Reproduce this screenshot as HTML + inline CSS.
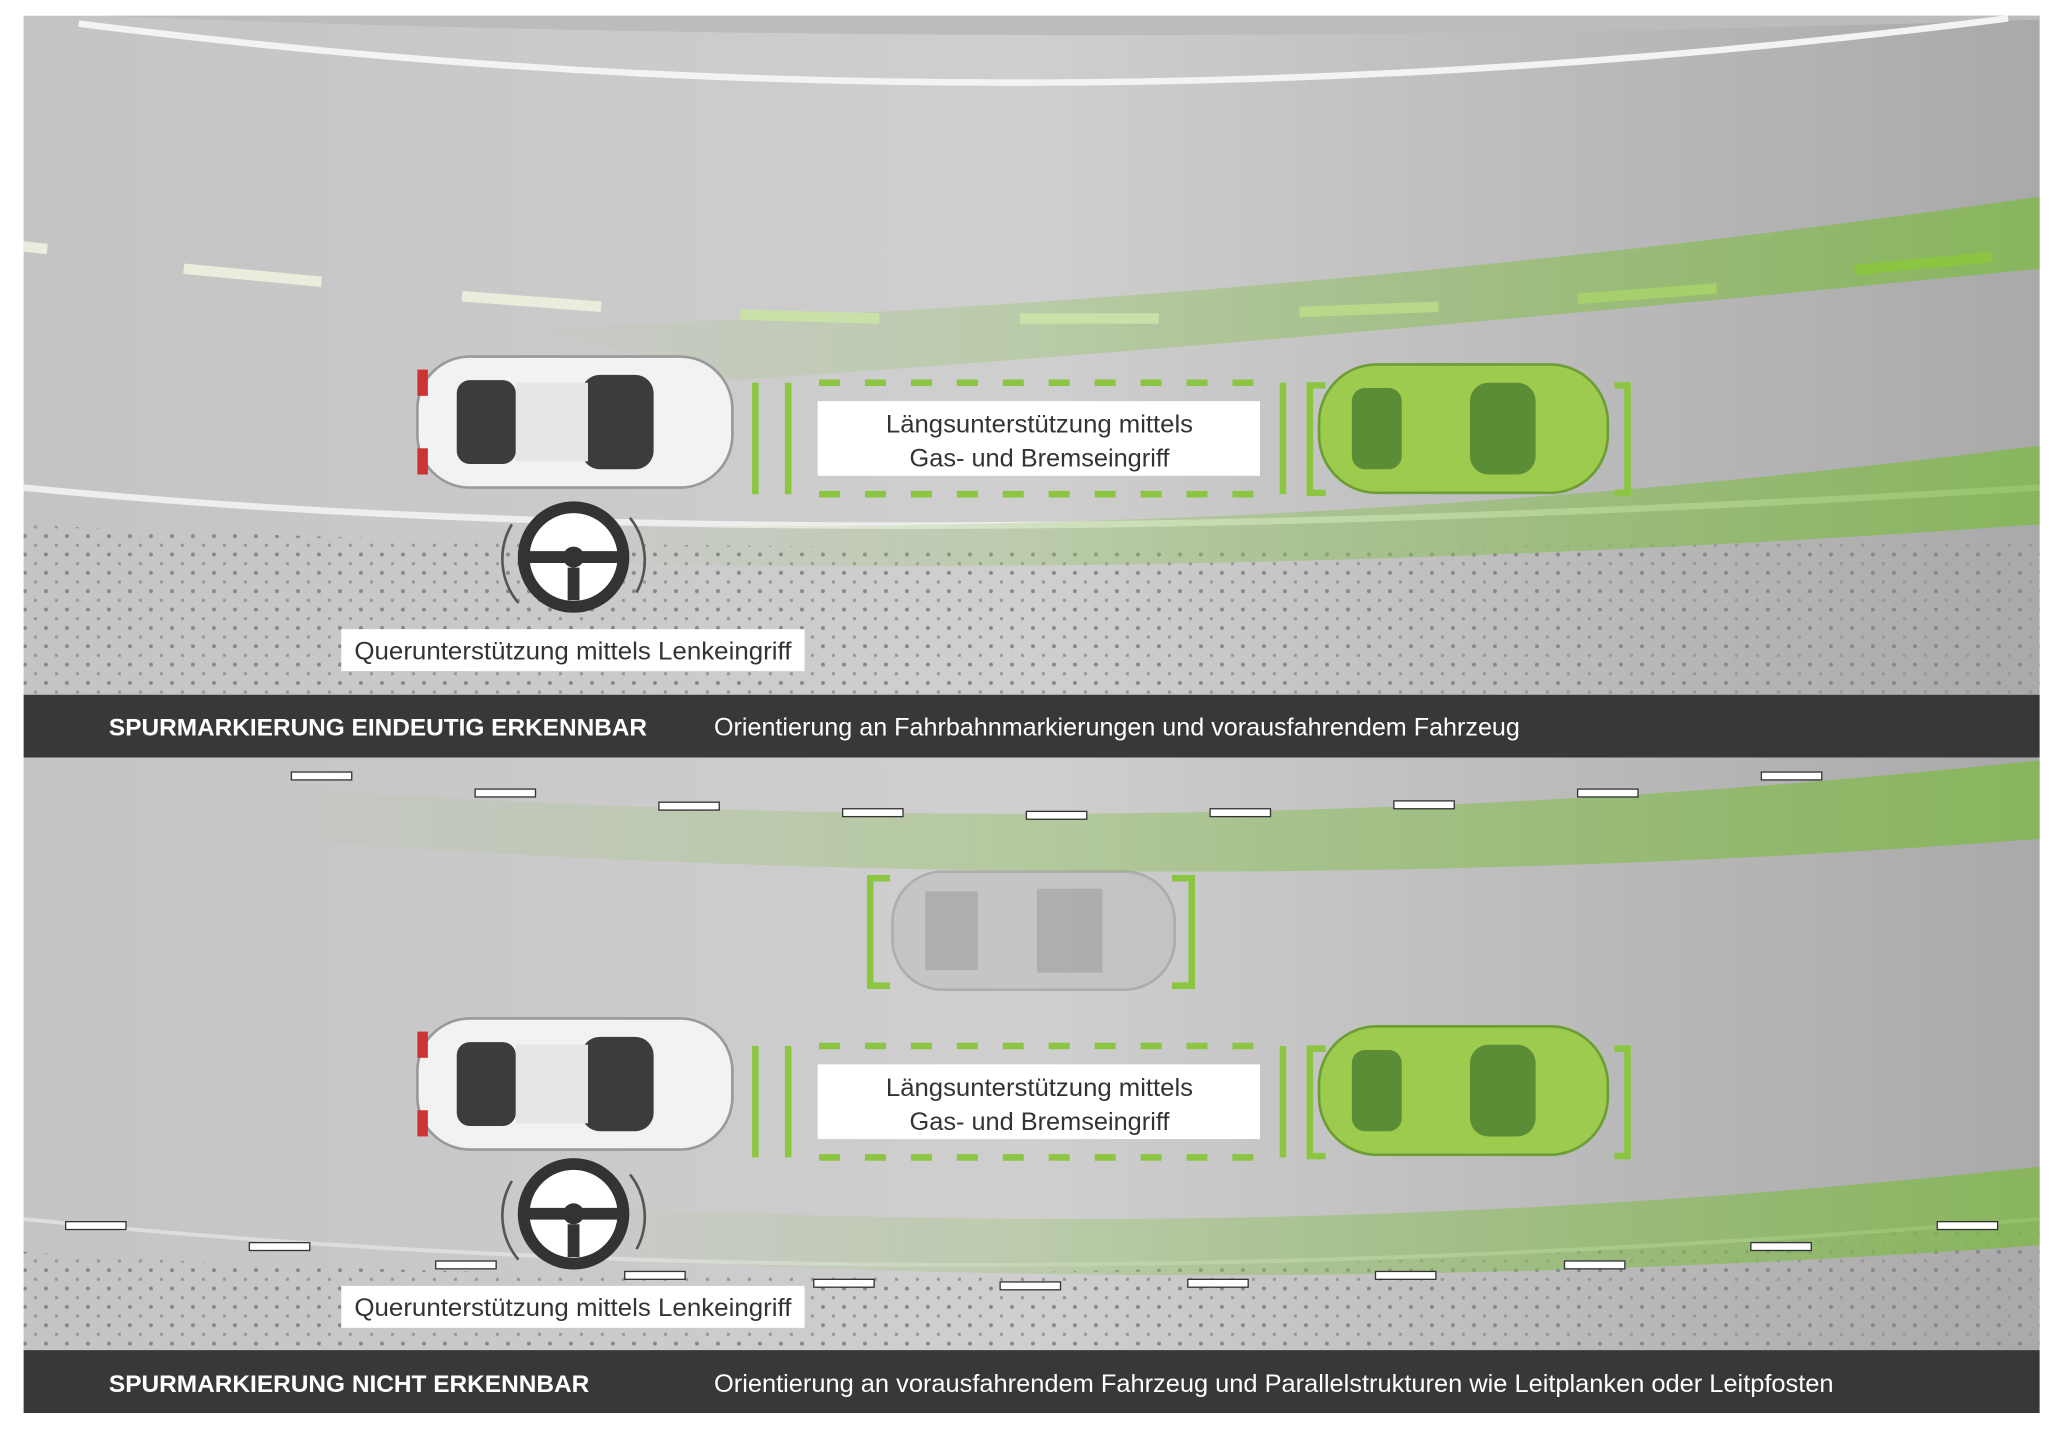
<!DOCTYPE html>
<html><head><meta charset="utf-8"><style>
html,body{margin:0;padding:0;background:#fff;}
svg{display:block;}
text{font-family:"Liberation Sans",sans-serif;}
</style></head><body>
<svg width="2058" height="1434" viewBox="0 0 1568 1094" preserveAspectRatio="none" xmlns="http://www.w3.org/2000/svg">
<defs>
<linearGradient id="bg" x1="0" x2="1" y1="0" y2="0"><stop offset="0" stop-color="#c4c4c4"/><stop offset="0.5" stop-color="#cfcfcf"/><stop offset="1" stop-color="#a9a9a9"/></linearGradient>
<linearGradient id="gr" x1="0" x2="1"><stop offset="0" stop-color="#8fc25a" stop-opacity="0"/><stop offset="0.35" stop-color="#8fc25a" stop-opacity="0.35"/><stop offset="1" stop-color="#7fb84a" stop-opacity="0.8"/></linearGradient>
<pattern id="dots" width="16" height="14" patternUnits="userSpaceOnUse"><circle cx="3" cy="3" r="1.5" fill="#888"/><circle cx="11" cy="10" r="1.3" fill="#999"/></pattern>
<g id="car">
<rect x="0" y="0" width="240" height="100" rx="40" fill="#f2f2f2" stroke="#999" stroke-width="2"/>
<rect x="30" y="18" width="45" height="64" rx="10" fill="#3c3c3c"/>
<rect x="125" y="14" width="55" height="72" rx="14" fill="#3c3c3c"/>
<rect x="75" y="20" width="55" height="60" fill="#e6e6e6"/>
<rect x="0" y="10" width="8" height="20" fill="#c33"/><rect x="0" y="70" width="8" height="20" fill="#c33"/>
</g>
<g id="gcar">
<rect x="0" y="0" width="220" height="98" rx="44" fill="#9ccb4e" stroke="#6d9d35" stroke-width="2"/>
<rect x="25" y="18" width="38" height="62" rx="10" fill="#5b8c36"/>
<rect x="115" y="14" width="50" height="70" rx="14" fill="#5b8c36"/>
</g>
<g id="hatch">
<g fill="#8cc542">
<rect x="573" y="0" width="5" height="85"/><rect x="598" y="0" width="5" height="85"/>
</g>
<g stroke="#8cc542" stroke-width="5" stroke-dasharray="16 19">
<line x1="624" y1="0" x2="960" y2="0"/><line x1="624" y1="85" x2="960" y2="85"/>
</g>
<rect x="975" y="0" width="5" height="85" fill="#8cc542"/>
<path d="M1010 2 h-12 v82 h12" fill="none" stroke="#8cc542" stroke-width="5"/>
<path d="M1230 2 h10 v82 h-10" fill="none" stroke="#8cc542" stroke-width="5"/>
<rect x="623" y="14" width="337" height="57" fill="#fff"/>
<text x="675" y="38" font-size="19" textLength="234" lengthAdjust="spacingAndGlyphs" fill="#333">Längsunterstützung mittels</text>
<text x="693" y="64" font-size="19" textLength="198" lengthAdjust="spacingAndGlyphs" fill="#333">Gas- und Bremseingriff</text>
</g>
<g id="wheel">
<circle cx="437" cy="425" r="38" fill="#fff" stroke="#333" stroke-width="9"/>
<circle cx="437" cy="425" r="8" fill="#333"/>
<path d="M402 425 h70 M437 433 v25" stroke="#333" stroke-width="9"/>
<path d="M390 400 A52 52 0 0 0 395 460 M480 395 A52 52 0 0 1 485 452" fill="none" stroke="#555" stroke-width="2"/>
<rect x="260" y="480" width="353" height="32" fill="#fff"/>
<text x="270" y="503" font-size="19" textLength="333" lengthAdjust="spacingAndGlyphs" fill="#333">Querunterstützung mittels Lenkeingriff</text>
</g>
</defs>
<!-- panel 1 -->
<rect x="18" y="12" width="1536" height="518" fill="url(#bg)"/>
<path d="M18 12 H1554 V15 Q780 40 80 12Z" fill="#bcbcbc"/>
<path d="M60 18 Q780 110 1530 14" fill="none" stroke="#f3f3f3" stroke-width="5"/>
<path d="M18 400 Q600 430 1554 410 V530 H18Z" fill="url(#dots)"/>
<path d="M18 372 Q600 430 1554 372" fill="none" stroke="#eee" stroke-width="5"/>
<path d="M400 250 Q1000 230 1554 150 V205 Q1000 260 560 290Z" fill="url(#gr)"/>
<path d="M450 400 Q1000 410 1554 340 V400 Q1000 440 450 430Z" fill="url(#gr)"/>
<g stroke="#e8eedb" stroke-width="8">
<line x1="18" y1="188" x2="36" y2="190"/><line x1="140" y1="205" x2="245" y2="215"/><line x1="352" y1="226" x2="458" y2="234"/>
<line x1="564" y1="240" x2="670" y2="243" stroke="#c9e0a8"/><line x1="777" y1="243" x2="883" y2="243" stroke="#c9e0a8"/>
<line x1="990" y1="238" x2="1096" y2="234" stroke="#b8d88a"/><line x1="1202" y1="228" x2="1308" y2="220" stroke="#a5d06b"/><line x1="1413" y1="206" x2="1518" y2="196" stroke="#8cc542"/>
</g>
<use href="#car" x="318" y="272"/>
<use href="#gcar" x="1005" y="278"/>
<use href="#hatch" y="292"/>
<use href="#wheel"/>
<rect x="18" y="530" width="1536" height="48" fill="#383838"/>
<text x="83" y="561" font-size="18.5" font-weight="bold" textLength="410" lengthAdjust="spacingAndGlyphs" fill="#fff">SPURMARKIERUNG EINDEUTIG ERKENNBAR</text>
<text x="544" y="561" font-size="19" textLength="614" lengthAdjust="spacingAndGlyphs" fill="#fff">Orientierung an Fahrbahnmarkierungen und vorausfahrendem Fahrzeug</text>
<!-- panel 2 -->
<rect x="18" y="578" width="1536" height="452" fill="url(#bg)"/>
<path d="M18 955 Q700 1000 1554 930 V1030 H18Z" fill="url(#dots)"/>
<path d="M18 930 Q700 1000 1554 930" fill="none" stroke="#ddd" stroke-width="3"/>
<path d="M200 600 Q900 650 1554 580 V640 Q900 690 200 640Z" fill="url(#gr)"/>
<path d="M450 920 Q1000 950 1554 890 V950 Q1000 990 450 960Z" fill="url(#gr)"/>
<g fill="#fff" stroke="#333" stroke-width="1">
<rect x="222" y="589" width="46" height="6"/><rect x="362" y="602" width="46" height="6"/><rect x="502" y="612" width="46" height="6"/><rect x="642" y="617" width="46" height="6"/><rect x="782" y="619" width="46" height="6"/><rect x="922" y="617" width="46" height="6"/><rect x="1062" y="611" width="46" height="6"/><rect x="1202" y="602" width="46" height="6"/><rect x="1342" y="589" width="46" height="6"/>
<rect x="50" y="932" width="46" height="6"/><rect x="190" y="948" width="46" height="6"/><rect x="332" y="962" width="46" height="6"/><rect x="476" y="970" width="46" height="6"/><rect x="620" y="976" width="46" height="6"/><rect x="762" y="978" width="46" height="6"/><rect x="905" y="976" width="46" height="6"/><rect x="1048" y="970" width="46" height="6"/><rect x="1192" y="962" width="46" height="6"/><rect x="1334" y="948" width="46" height="6"/><rect x="1476" y="932" width="46" height="6"/>
</g>
<g opacity="0.45"><rect x="680" y="665" width="215" height="90" rx="38" fill="#bbb" stroke="#888" stroke-width="2"/><rect x="705" y="680" width="40" height="60" fill="#888"/><rect x="790" y="678" width="50" height="64" fill="#888"/></g>
<path d="M678 670 h-15 v82 h15 M893 670 h15 v82 h-15" fill="none" stroke="#8cc542" stroke-width="5"/>
<use href="#car" x="318" y="777"/>
<use href="#gcar" x="1005" y="783"/>
<use href="#hatch" y="798"/>
<use href="#wheel" y="501"/>
<rect x="18" y="1030" width="1536" height="48" fill="#383838"/>
<text x="83" y="1062" font-size="18.5" font-weight="bold" textLength="366" lengthAdjust="spacingAndGlyphs" fill="#fff">SPURMARKIERUNG NICHT ERKENNBAR</text>
<text x="544" y="1062" font-size="19" textLength="853" lengthAdjust="spacingAndGlyphs" fill="#fff">Orientierung an vorausfahrendem Fahrzeug und Parallelstrukturen wie Leitplanken oder Leitpfosten</text>
</svg>
</body></html>
